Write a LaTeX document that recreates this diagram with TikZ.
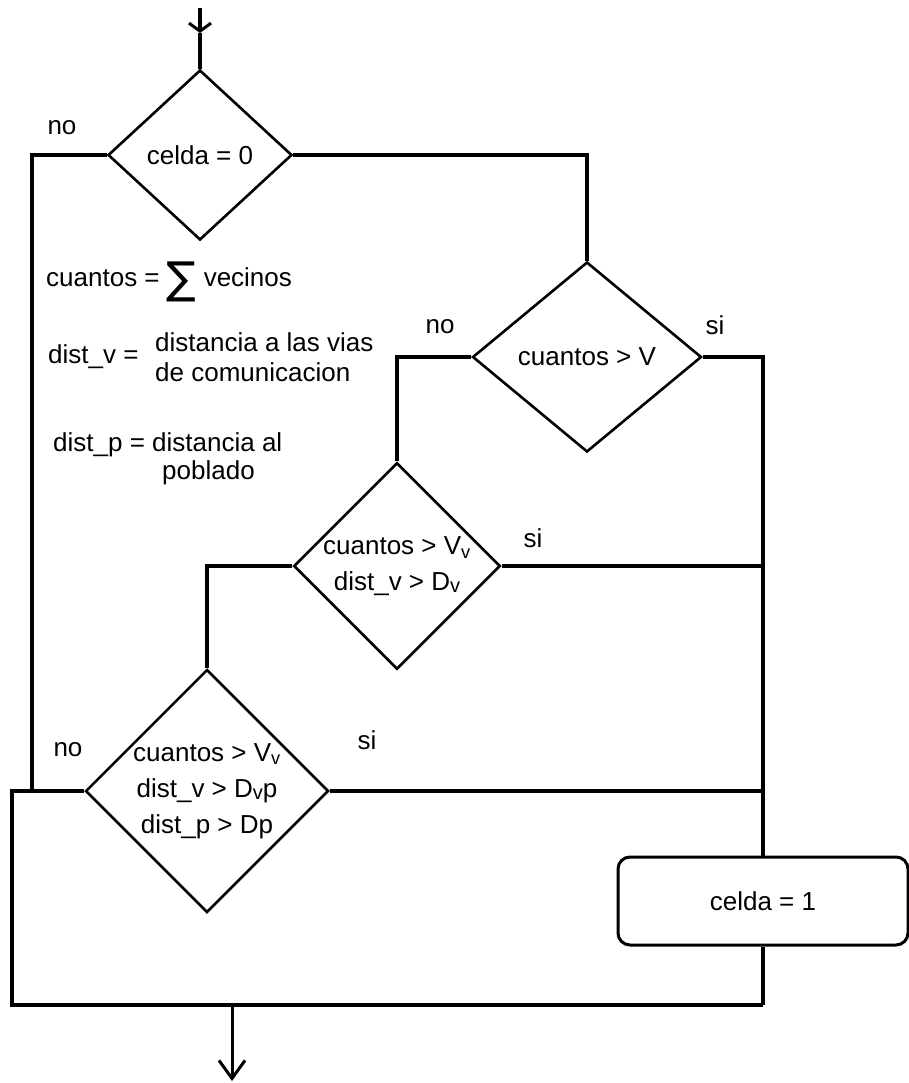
\documentclass[tikz,border=0pt]{standalone}
\usepackage{fontspec}
\setmainfont{Liberation Sans}
\newfontfamily\symfont{DejaVu Sans}
\usetikzlibrary{shapes.geometric,arrows.meta,positioning,calc}

\newcommand{\lowv}{\raisebox{-2pt}{\fontsize{20}{20}\selectfont v}}

\begin{document}
\begin{tikzpicture}[x=1pt,y=-1pt,
    font=\fontsize{26}{36}\selectfont,
    line/.style={line width=3.5pt},
    cond/.style={diamond, draw, line width=2.6pt, inner sep=0pt, align=center},
    proc/.style={rectangle, rounded corners=12pt, draw, line width=3pt,
        minimum width=290pt, minimum height=88pt},
    note/.style={anchor=west, inner sep=0pt, align=left,
        font=\fontsize{26}{30}\selectfont}]
    \useasboundingbox (0,0) rectangle (909,1083);

    % Decisions
    \node[cond, minimum width=184pt, minimum height=170pt] (d0) at (200,155) {celda = 0};
    \node[cond, minimum width=229pt, minimum height=190pt] (d1) at (587,357) {cuantos > V};
    \node[cond, minimum width=199pt, minimum height=190pt] (d2) at (397,566)
        {cuantos > V\textsubscript{v}\\dist\_v > D\lowv};
    \node[cond, minimum width=240pt, minimum height=240pt] (d3) at (207,791)
        {cuantos > V\textsubscript{v}\\dist\_v > D\lowv p\\dist\_p > Dp};

    % Action
    \node[proc] (set1) at (763,901) {celda = 1};

    % Definitions
    \node[note] (sum) at (46,282) {cuantos = \raisebox{-7pt}{\symfont\fontsize{44}{44}\selectfont ∑} vecinos};
    \node[note] (dv) at (48,357) {dist\_v =};
    \node[note] (dvtxt) at (155,357) {distancia a las vias\\de comunicacion};
    \node[note] (dp) at (53,445) {dist\_p = distancia al};
    \node[note] (dptxt) at (162,473) {poblado};

    % Branch labels
    \node (no0) at (62,128) {no};
    \node (no1) at (440,327) {no};
    \node (si1) at (715,325) {si};
    \node (si2) at (533,538) {si};
    \node (no3) at (68,750) {no};
    \node (si3) at (367,740) {si};

    % Junctions
    \coordinate (start) at (200,8);
    \coordinate (tip) at (200,33);
    \coordinate (jn) at (32,791);
    \coordinate (jl) at (12,791);
    \coordinate (bl) at (12,1005);
    \coordinate (br) at (763,1005);
    \coordinate (out) at (232,1005);
    \coordinate (end) at (232,1081);

    % Connectors
    \draw[line, -{Straight Barb[length=8pt,width=22pt,line width=3pt]}] (start) -- (tip);
    \draw[line] (tip) -- (d0.north);
    \draw[line] (d0.west) -| (jn);
    \draw[line] (d0.east) -| (d1.north);
    \draw[line] (d1.east) -| (set1.north);
    \draw[line] (d1.west) -| (d2.north);
    \draw[line] (d2.east) -- (d2.east -| set1.north);
    \draw[line] (d2.west) -| (d3.north);
    \draw[line] (d3.east) -- (d3.east -| set1.north);
    \draw[line] (d3.west) -- (jl) -- (bl) -- (br);
    \draw[line] (set1.south) -- (br);
    \draw[line width=3pt, -{Straight Barb[length=18pt,width=26pt,line width=3pt]}] (out) -- (end);
\end{tikzpicture}
\end{document}
